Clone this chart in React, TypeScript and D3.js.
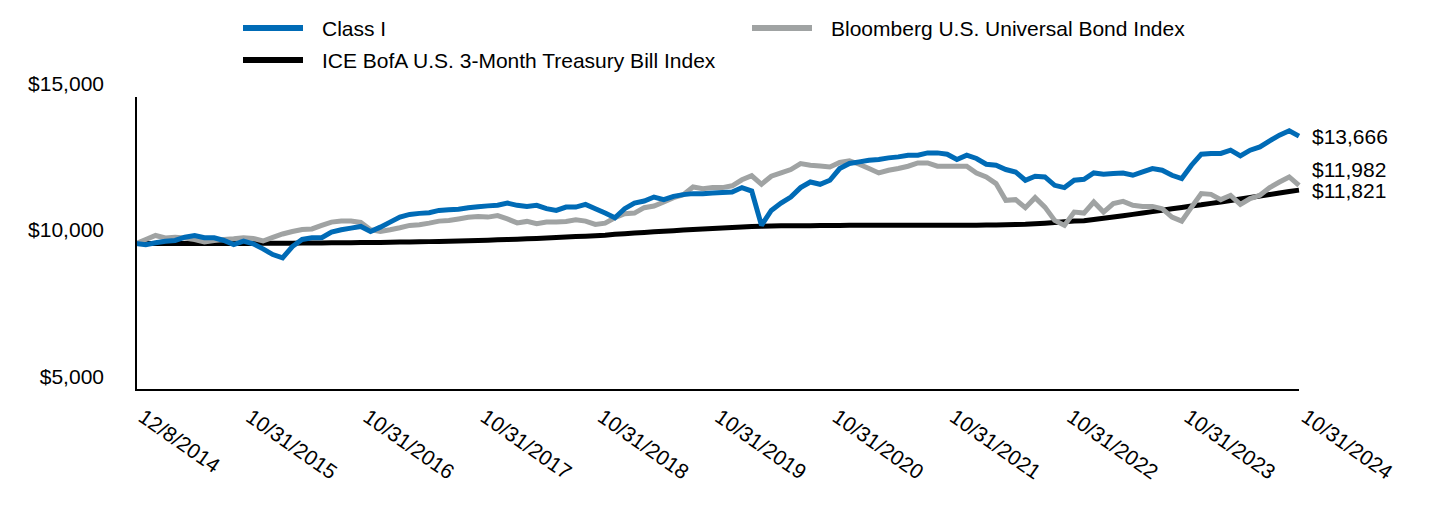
import React from "react";
import * as d3 from "d3";

const tickLabels = ["12/8/2014", "10/31/2015", "10/31/2016", "10/31/2017", "10/31/2018", "10/31/2019", "10/31/2020", "10/31/2021", "10/31/2022", "10/31/2023", "10/31/2024"];
const tickIndex = [0, 11, 23, 35, 47, 59, 71, 83, 95, 107, 119];

const classI = [
  10000, 9955, 10024, 10079, 10103, 10216, 10274, 10195, 10195, 10103, 9966, 10079,
  9990, 9818, 9623, 9510, 9897, 10137, 10195, 10195, 10387, 10469, 10524, 10582,
  10411, 10558, 10730, 10901, 10993, 11028, 11051, 11130, 11154, 11171, 11223, 11257,
  11284, 11308, 11380, 11302, 11267, 11302, 11188, 11130, 11243, 11243, 11336, 11188,
  11038, 10880, 11188, 11380, 11449, 11586, 11497, 11610, 11668, 11702, 11702, 11723,
  11737, 11757, 11908, 11791, 10617, 11130, 11380, 11586, 11908, 12100, 12021, 12158,
  12558, 12730, 12785, 12843, 12867, 12922, 12956, 13014, 13014, 13093, 13093, 13048,
  12867, 13014, 12901, 12706, 12672, 12524, 12442, 12158, 12295, 12271, 11986, 11908,
  12158, 12192, 12408, 12363, 12387, 12408, 12329, 12442, 12558, 12500, 12329, 12216,
  12672, 13048, 13072, 13072, 13185, 12990, 13185, 13298, 13504, 13699, 13846, 13666,
];

const bloomberg = [
  10000, 10137, 10274, 10188, 10216, 10188, 10137, 10051, 10103, 10137, 10161, 10195,
  10171, 10086, 10206, 10325, 10411, 10480, 10497, 10617, 10730, 10764, 10764, 10719,
  10469, 10411, 10469, 10538, 10617, 10640, 10695, 10764, 10788, 10839, 10897, 10925,
  10901, 10952, 10839, 10702, 10754, 10675, 10730, 10730, 10754, 10812, 10764, 10651,
  10695, 10880, 11017, 11038, 11223, 11278, 11415, 11565, 11668, 11928, 11873, 11908,
  11908, 11969, 12175, 12312, 12021, 12295, 12408, 12524, 12730, 12672, 12648, 12613,
  12764, 12819, 12706, 12558, 12408, 12500, 12558, 12637, 12750, 12750, 12637, 12637,
  12637, 12637, 12408, 12271, 12045, 11473, 11497, 11223, 11565, 11243, 10788, 10617,
  11072, 11038, 11415, 11072, 11360, 11439, 11302, 11267, 11267, 11188, 10901, 10764,
  11243, 11702, 11678, 11497, 11644, 11336, 11531, 11644, 11908, 12100, 12271, 11982,
];

const tbill = [
  10000, 10000, 10000, 10000, 10001, 10001, 10001, 10001, 10002, 10002, 10002, 10002,
  10003, 10005, 10007, 10010, 10012, 10014, 10017, 10020, 10023, 10026, 10029, 10032,
  10035, 10038, 10043, 10047, 10052, 10058, 10064, 10071, 10079, 10087, 10095, 10104,
  10113, 10124, 10135, 10147, 10160, 10174, 10188, 10203, 10219, 10235, 10251, 10268,
  10285, 10313, 10334, 10355, 10376, 10397, 10417, 10438, 10458, 10477, 10495, 10512,
  10527, 10549, 10563, 10576, 10590, 10599, 10603, 10606, 10608, 10610, 10612, 10613,
  10615, 10619, 10620, 10620, 10621, 10621, 10622, 10622, 10622, 10623, 10623, 10623,
  10624, 10625, 10626, 10628, 10631, 10638, 10645, 10655, 10673, 10695, 10718, 10743,
  10770, 10780, 10820, 10862, 10906, 10948, 10994, 11040, 11088, 11136, 11183, 11232,
  11281, 11320, 11370, 11418, 11468, 11518, 11567, 11619, 11671, 11723, 11774, 11821,
];

const yTicks = [5000, 10000, 15000];

const seriesNames = ["Class I", "Bloomberg U.S. Universal Bond Index", "ICE BofA U.S. 3-Month Treasury Bill Index"];
const seriesColors = ["#006BB6", "#A0A3A3", "#000000"];

const FONT = "'Liberation Sans', Arial, Helvetica, sans-serif";

export default function App() {
  const width = 1440;
  const height = 516;
  const left = 136;
  const right = 1299;
  const top = 97;
  const bottom = 390;

  const idx = d3.range(classI.length);
  const x = d3.scalePoint<number>().domain(idx).range([left, right]);
  const y = d3.scaleLinear().domain([5000, 15000]).range([bottom, top]);

  const line = d3
    .line<number>()
    .x((_, i) => x(i) as number)
    .y((d) => y(d))
    .curve(d3.curveLinear);

  const data = [classI, bloomberg, tbill];
  const drawOrder = [2, 1, 0];

  // end labels with collision avoidance
  const ends = data.map((s, k) => ({ k, v: s[s.length - 1], y: y(s[s.length - 1]) }));
  const sorted = [...ends].sort((a, b) => b.y - a.y);
  for (let i = 1; i < sorted.length; i++) {
    if (sorted[i - 1].y - sorted[i].y < 21) sorted[i].y = sorted[i - 1].y - 21;
  }

  const fmt = (v: number) => "$" + d3.format(",")(v);

  return (
    <svg
      width={width}
      height={height}
      style={{ position: "absolute", left: 0, top: 0, background: "#fff" }}
      fontFamily={FONT}
    >
      {/* legend */}
      <g>
        <line x1={243} x2={303} y1={28} y2={28} stroke={seriesColors[0]} strokeWidth={6} />
        <text x={322} y={28} fontSize={21} dominantBaseline="central" fill="#000">{seriesNames[0]}</text>
        <line x1={752} x2={812} y1={28} y2={28} stroke={seriesColors[1]} strokeWidth={6} />
        <text x={831} y={28} fontSize={21} dominantBaseline="central" fill="#000">{seriesNames[1]}</text>
        <line x1={243} x2={303} y1={60} y2={60} stroke={seriesColors[2]} strokeWidth={6} />
        <text x={322} y={60} fontSize={21} dominantBaseline="central" fill="#000">{seriesNames[2]}</text>
      </g>

      {/* y labels */}
      {yTicks.map((t) => (
        <text key={t} x={104} y={y(t) - 14} fontSize={21} textAnchor="end" dominantBaseline="central" fill="#000">
          {fmt(t)}
        </text>
      ))}

      {/* lines */}
      {drawOrder.map((k) => (
        <path
          key={k}
          d={line(data[k]) || ""}
          fill="none"
          stroke={seriesColors[k]}
          strokeWidth={5}
          strokeLinejoin="miter"
          strokeMiterlimit={2}
        />
      ))}

      {/* axes */}
      <line x1={left} x2={left} y1={top} y2={bottom} stroke="#000" strokeWidth={2} />
      <line x1={left - 1} x2={right} y1={bottom} y2={bottom} stroke="#000" strokeWidth={2} />

      {/* x labels */}
      {tickIndex.map((ti, j) => {
        const px = (x(ti) as number) + 1;
        return (
          <text key={ti} transform={`translate(${px},420) rotate(35)`} fontSize={21} fill="#000">
            {tickLabels[j]}
          </text>
        );
      })}

      {/* end labels */}
      {ends.map((e) => (
        <text key={e.k} x={1312} y={e.y} fontSize={21} dominantBaseline="central" fill="#000">
          {fmt(e.v)}
        </text>
      ))}
    </svg>
  );
}
